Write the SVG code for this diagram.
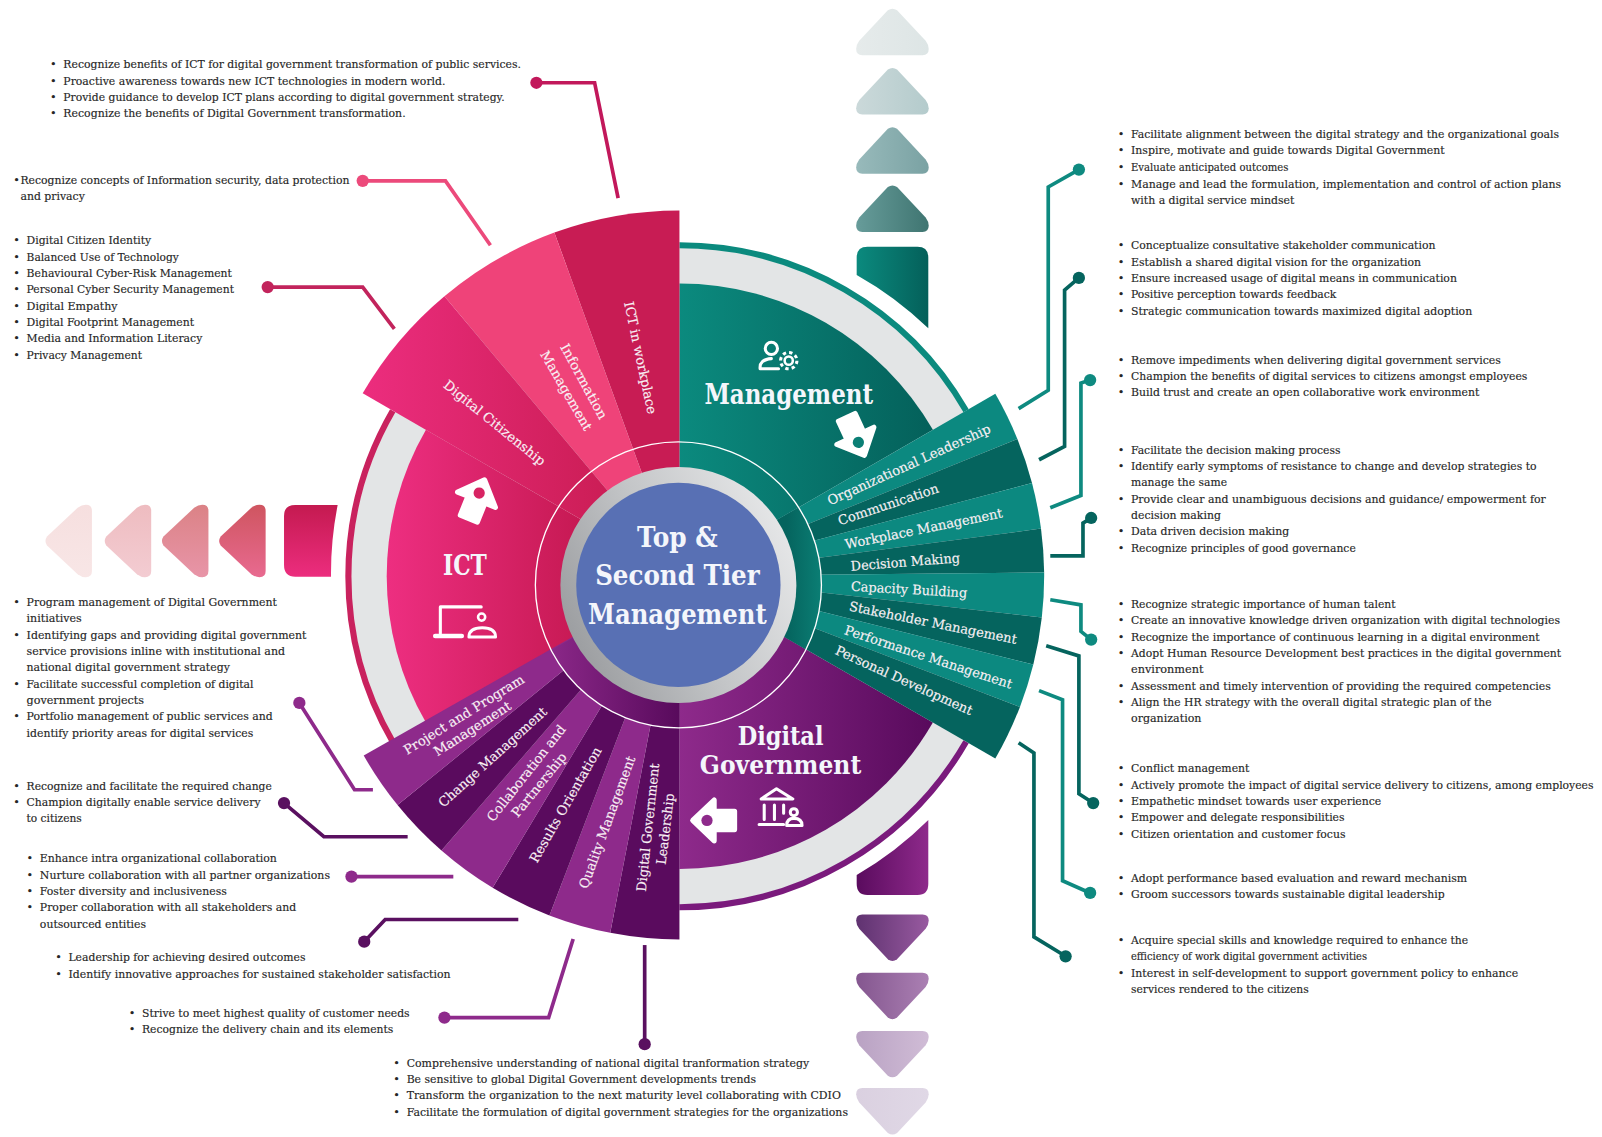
<svg xmlns="http://www.w3.org/2000/svg" width="1602" height="1137" viewBox="0 0 1602 1137">
<style>
text{font-family:"DejaVu Serif","Liberation Serif",serif}
.t{font-size:11.4px;fill:#262626;stroke:#262626;stroke-width:.15}
.b{font-size:11px;fill:#262626}
.h{font-size:27px;font-weight:700;fill:#f4f6fb;text-anchor:middle}
.l{font-size:13px;fill:#f8f0f4;text-anchor:middle;stroke:#f8f0f4;stroke-width:.15}
.c{fill:none;stroke-width:3.6}
.ic{fill:none;stroke:#fff;stroke-width:3;stroke-linecap:round;stroke-linejoin:round}
.tl{fill:#0c8980}.td{fill:#05645e}.ql{fill:#8e2a8b}.qd{fill:#5a0b5e}
</style>
<defs>
<path id="tri" d="M31,2 Q35.5,-1 40,2 L68,32 Q71,36 71,40 Q71,46 65,46 L6,46 Q0,46 0,40 Q0,36 3,32 Z"/>
<path id="arw" d="M0,-22 L20,-1 L9,-1 L9,19 L-9,19 L-9,-1 L-20,-1 Z" fill="#fff" stroke="#fff" stroke-width="5" stroke-linejoin="round"/>
<linearGradient id="u1"><stop offset="0" stop-color="#e6ebeb"/><stop offset="1" stop-color="#dde5e5"/></linearGradient>
<linearGradient id="u2"><stop offset="0" stop-color="#cbd9da"/><stop offset="1" stop-color="#b4cbcc"/></linearGradient>
<linearGradient id="u3"><stop offset="0" stop-color="#98babb"/><stop offset="1" stop-color="#7aa2a3"/></linearGradient>
<linearGradient id="u4"><stop offset="0" stop-color="#679c9a"/><stop offset="1" stop-color="#3f7571"/></linearGradient>
<linearGradient id="l1"><stop offset="0" stop-color="#f8e6e6"/><stop offset="1" stop-color="#f6dfdf"/></linearGradient>
<linearGradient id="l2"><stop offset="0" stop-color="#f3ccd2"/><stop offset="1" stop-color="#eebcc0"/></linearGradient>
<linearGradient id="l3"><stop offset="0" stop-color="#e895a8"/><stop offset="1" stop-color="#db8286"/></linearGradient>
<linearGradient id="l4"><stop offset="0" stop-color="#e86a90"/><stop offset="1" stop-color="#cf5560"/></linearGradient>
<linearGradient id="d1"><stop offset="0" stop-color="#985aa0"/><stop offset="1" stop-color="#5f3270"/></linearGradient>
<linearGradient id="d2"><stop offset="0" stop-color="#ab80b3"/><stop offset="1" stop-color="#84568f"/></linearGradient>
<linearGradient id="d3"><stop offset="0" stop-color="#d0bcd6"/><stop offset="1" stop-color="#b9a2c3"/></linearGradient>
<linearGradient id="d4"><stop offset="0" stop-color="#e0d8e6"/><stop offset="1" stop-color="#dad0e0"/></linearGradient>
<linearGradient id="gm" gradientUnits="userSpaceOnUse" x1="665" y1="0" x2="915" y2="0"><stop offset="0" stop-color="#0b8a7e"/><stop offset="1" stop-color="#04605a"/></linearGradient>
<linearGradient id="gg" gradientUnits="userSpaceOnUse" x1="665" y1="0" x2="915" y2="0"><stop offset="0" stop-color="#8e2a8b"/><stop offset="1" stop-color="#580a5c"/></linearGradient>
<linearGradient id="gi" gradientUnits="userSpaceOnUse" x1="381" y1="0" x2="590" y2="0"><stop offset="0" stop-color="#ed2e80"/><stop offset="1" stop-color="#c2174e"/></linearGradient>
<linearGradient id="gc" gradientUnits="userSpaceOnUse" x1="355" y1="0" x2="600" y2="0"><stop offset="0" stop-color="#ec2d7e"/><stop offset="1" stop-color="#cb1d55"/></linearGradient>
<linearGradient id="gb" gradientUnits="userSpaceOnUse" x1="530" y1="0" x2="665" y2="0"><stop offset="0" stop-color="#8e2a8b"/><stop offset="1" stop-color="#580a5c"/></linearGradient>
<linearGradient id="gt" gradientUnits="userSpaceOnUse" x1="770" y1="0" x2="805" y2="0"><stop offset="0" stop-color="#05645e"/><stop offset="1" stop-color="#0b7f75"/></linearGradient>
<linearGradient id="gr" x1="0" y1=".75" x2="1" y2=".25"><stop offset="0" stop-color="#989a9d"/><stop offset=".5" stop-color="#c4c6c8"/><stop offset="1" stop-color="#e8e9ea"/></linearGradient>
<linearGradient id="rt"><stop offset="0" stop-color="#0b8a7e"/><stop offset="1" stop-color="#04605a"/></linearGradient>
<linearGradient id="rg"><stop offset="0" stop-color="#5a0b5e"/><stop offset="1" stop-color="#8e2a8b"/></linearGradient>
<linearGradient id="rp" x1="0" y1="0" x2="0" y2="1"><stop offset="0" stop-color="#c41a50"/><stop offset="1" stop-color="#ec2d7e"/></linearGradient>
</defs>
<g transform="scale(1.02168)">
<g id="arrows-column">
<use href="#tri" transform="translate(838,8)" fill="url(#u1)"/>
<use href="#tri" transform="translate(838,66)" fill="url(#u2)"/>
<use href="#tri" transform="translate(838,124)" fill="url(#u3)"/>
<use href="#tri" transform="translate(838,181)" fill="url(#u4)"/>
<path d="M838.5,252 Q838.5,241.5 849,241.5 H898 Q908.6,241.5 908.6,252 V321.4 A342,342 0 0 0 838.5,269.2 Z" fill="url(#rt)"/>
<use href="#tri" transform="translate(909,941) rotate(180)" fill="url(#d1)"/>
<use href="#tri" transform="translate(909,998) rotate(180)" fill="url(#d2)"/>
<use href="#tri" transform="translate(909,1055) rotate(180)" fill="url(#d3)"/>
<use href="#tri" transform="translate(909,1111) rotate(180)" fill="url(#d4)"/>
<path d="M838.5,856.4 A342,342 0 0 0 908.6,802.6 V865 Q908.6,876 898,876 H849 Q838.5,876 838.5,865 Z" fill="url(#rg)"/>
<use href="#tri" transform="translate(44,565) rotate(-90)" fill="url(#l1)"/>
<use href="#tri" transform="translate(102,565) rotate(-90)" fill="url(#l2)"/>
<use href="#tri" transform="translate(158,565) rotate(-90)" fill="url(#l3)"/>
<use href="#tri" transform="translate(214,565) rotate(-90)" fill="url(#l4)"/>
<path d="M289,494.3 H330.5 A342,342 0 0 0 324,564.4 H289 Q278,564.4 278,553 V505 Q278,494.3 289,494.3 Z" fill="url(#rp)"/>
</g>
<g id="ring">
<circle cx="665" cy="564" r="321.5" fill="#e3e5e6"/>
<path d="M665,240 A324,324 0 0 1 945.6,402" fill="none" stroke="#0b8a7e" stroke-width="6"/>
<path d="M945.6,726 A324,324 0 0 1 665,888" fill="none" stroke="#7a1a7c" stroke-width="6"/>
<path d="M384.4,726 A324,324 0 0 1 384.4,402" fill="none" stroke="#c9225e" stroke-width="6"/>
</g>
<g id="node-management">
<path d="M665,564 V277.5 A286.5,286.5 0 0 1 913.1,420.75 Z" fill="url(#gm)"/>
<text class="h" x="772" y="395" textLength="165" lengthAdjust="spacingAndGlyphs">Management</text>
<g class="ic"><circle cx="755" cy="341" r="6"/><path d="M744,361 H762 M744,361 Q743,352 755,351"/><circle cx="772" cy="353" r="4" stroke-width="2.5"/><circle cx="772" cy="353" r="8" stroke-width="3" stroke-linecap="butt" stroke-dasharray="3.3 3"/></g>
<g transform="translate(836.8,425.7) rotate(155)"><use href="#arw"/><circle cx="0" cy="-8" r="5.5" fill="#0b7f75"/></g>
</g>
<g id="node-ict">
<path d="M665,564 L416.9,420.75 A286.5,286.5 0 0 0 416.9,707.25 Z" fill="url(#gi)"/>
<text class="h" x="455" y="563" textLength="43" lengthAdjust="spacingAndGlyphs">ICT</text>
<g transform="translate(466,490) rotate(22)"><use href="#arw"/><circle cx="0" cy="-8" r="5.5" fill="#d82463"/></g>
<g class="ic"><path d="M431,620 V594 H471"/><path d="M426,622.5 H452" stroke-width="4.5"/><circle cx="471.4" cy="604" r="3.5" stroke-width="2.5"/><path d="M459,623.5 H485 Q485,614.5 472,614.5 Q459,614.5 459,623.5 Z"/></g>
</g>
<g id="node-digital-government">
<path d="M665,564 L913.1,707.25 A286.5,286.5 0 0 1 665,850.5 Z" fill="url(#gg)"/>
<text class="h" style="font-size:26px" x="764" y="729" textLength="84" lengthAdjust="spacingAndGlyphs">Digital</text>
<text class="h" style="font-size:26px" x="764" y="758" textLength="158" lengthAdjust="spacingAndGlyphs">Government</text>
<g transform="translate(700,803) rotate(-90)"><use href="#arw"/><circle cx="0" cy="-8" r="5.5" fill="#8e2a8b"/></g>
<g class="ic" stroke-width="2.5"><path d="M745,782 L760,772 L776,782 Z"/><path d="M748,788 V802 M758,788 V802 M767,788 V796 M743,807 H767"/><circle cx="777" cy="795" r="3.5"/><path d="M770,808 H785 Q785,801 777,801 Q770,801 770,808 Z"/></g>
</g>
<g id="management-sectors">
<path class="tl" d="M665,564 L974.2,385.5 A357,357 0 0 1 995.8,429.7 Z"/>
<path class="td" d="M665,564 L995.8,429.7 A357,357 0 0 1 1010.1,472.8 Z"/>
<path class="tl" d="M665,564 L1010.1,472.8 A357,357 0 0 1 1018.9,517.4 Z"/>
<path class="td" d="M665,564 L1018.9,517.4 A357,357 0 0 1 1022,560.3 Z"/>
<path class="tl" d="M665,564 L1022,560.3 A357,357 0 0 1 1019.7,604.4 Z"/>
<path class="td" d="M665,564 L1019.7,604.4 A357,357 0 0 1 1011.4,650.4 Z"/>
<path class="tl" d="M665,564 L1011.4,650.4 A357,357 0 0 1 998.3,691.9 Z"/>
<path class="td" d="M665,564 L998.3,691.9 A357,357 0 0 1 974.2,742.5 Z"/>
<path d="M665,564 L781.7,496.6 A140,140 0 0 1 789.1,635.7 Z" fill="url(#gt)"/>
<text class="l" transform="translate(891.5,458.8) rotate(-24.4)" textLength="174" lengthAdjust="spacingAndGlyphs">Organizational Leadership</text>
<text class="l" transform="translate(870.8,498) rotate(-18.4)" textLength="103" lengthAdjust="spacingAndGlyphs">Communication</text>
<text class="l" transform="translate(904.9,521.8) rotate(-11.4)" textLength="157" lengthAdjust="spacingAndGlyphs">Workplace Management</text>
<text class="l" transform="translate(886.4,554.5) rotate(-4.4)" textLength="107" lengthAdjust="spacingAndGlyphs">Decision Making</text>
<text class="l" transform="translate(889.5,581.5) rotate(3.3)" textLength="114" lengthAdjust="spacingAndGlyphs">Capacity Building</text>
<text class="l" transform="translate(912.4,614) rotate(11.3)" textLength="167" lengthAdjust="spacingAndGlyphs">Stakeholder Management</text>
<text class="l" transform="translate(907.4,647.3) rotate(18.2)" textLength="172" lengthAdjust="spacingAndGlyphs">Performance Management</text>
<text class="l" transform="translate(883,670) rotate(24.4)" textLength="146" lengthAdjust="spacingAndGlyphs">Personal Development</text>
</g>
<g id="ict-sectors">
<path d="M665,564 V206 A358,358 0 0 0 542.6,227.6 Z" fill="#c81c54"/>
<path d="M665,564 L542.6,227.6 A358,358 0 0 0 435,290 Z" fill="#ef4379"/>
<path d="M665,564 L435,290 A358,358 0 0 0 355,385 Z" fill="url(#gc)"/>
<text class="l" transform="translate(622.5,351) rotate(78)" textLength="112" lengthAdjust="spacingAndGlyphs">ICT in workplace</text>
<text class="l" transform="translate(567.5,375.4) rotate(61.4)" textLength="82" lengthAdjust="spacingAndGlyphs">Information</text>
<text class="l" transform="translate(550.3,384.5) rotate(60)" textLength="88" lengthAdjust="spacingAndGlyphs">Management</text>
<text class="l" transform="translate(481.2,417.4) rotate(39)" textLength="124" lengthAdjust="spacingAndGlyphs">Digital Citizenship</text>
</g>
<g id="government-sectors">
<path class="qd" d="M665,564 V919.5 A355.5,355.5 0 0 1 597.3,913 Z"/>
<path class="ql" d="M665,564 L597.3,913 A355.5,355.5 0 0 1 537.8,896 Z"/>
<path class="qd" d="M665,564 L537.8,896 A355.5,355.5 0 0 1 482.2,869 Z"/>
<path class="ql" d="M665,564 L482.2,869 A355.5,355.5 0 0 1 432.1,832.5 Z"/>
<path class="qd" d="M665,564 L432.1,832.5 A355.5,355.5 0 0 1 389.1,788 Z"/>
<path class="ql" d="M665,564 L389.1,788 A355.5,355.5 0 0 1 356,739.5 Z"/>
<path d="M665,564 L665,712.5 A140,140 0 0 1 539.4,636.5 Z" fill="url(#gb)"/>
<text class="l" transform="translate(456.4,703.2) rotate(-31.8)" textLength="136" lengthAdjust="spacingAndGlyphs">Project and Program</text>
<text class="l" transform="translate(464.7,717) rotate(-32.8)" textLength="87" lengthAdjust="spacingAndGlyphs">Management</text>
<text class="l" transform="translate(485.1,744.4) rotate(-42.3)" textLength="138" lengthAdjust="spacingAndGlyphs">Change Management</text>
<text class="l" transform="translate(518.6,759.5) rotate(-51.8)" textLength="116" lengthAdjust="spacingAndGlyphs">Collaboration and</text>
<text class="l" transform="translate(531.1,770.9) rotate(-51)" textLength="77" lengthAdjust="spacingAndGlyphs">Partnership</text>
<text class="l" transform="translate(557.3,789.9) rotate(-60.2)" textLength="128" lengthAdjust="spacingAndGlyphs">Results Orientation</text>
<text class="l" transform="translate(598.4,806.4) rotate(-69.8)" textLength="137" lengthAdjust="spacingAndGlyphs">Quality Management</text>
<text class="l" transform="translate(638.6,810.4) rotate(-84)" textLength="126" lengthAdjust="spacingAndGlyphs">Digital Government</text>
<text class="l" transform="translate(655.7,812) rotate(-83)" textLength="70" lengthAdjust="spacingAndGlyphs">Leadership</text>
</g>
<g id="node-hub">
<circle cx="664" cy="572.5" r="140" fill="none" stroke="#fff" stroke-width="1.3"/>
<circle cx="664" cy="572.5" r="115.5" fill="url(#gr)"/>
<circle cx="664" cy="572.5" r="100" fill="#5870b4"/>
<text class="h" x="663" y="535" textLength="79" lengthAdjust="spacingAndGlyphs">Top &amp;</text>
<text class="h" x="663" y="573" textLength="161" lengthAdjust="spacingAndGlyphs">Second Tier</text>
<text class="h" x="663" y="611" textLength="175" lengthAdjust="spacingAndGlyphs">Management</text>
</g>
<g id="connectors">
<g class="c" stroke="#c2185b"><path d="M525,81 H582 L605,194"/></g><circle cx="525" cy="81" r="6" fill="#c2185b"/>
<g class="c" stroke="#ec4a7b"><path d="M355,177 H436 L480,240"/></g><circle cx="355" cy="177" r="6" fill="#ec4a7b"/>
<g class="c" stroke="#c2245c"><path d="M262,281 H355 L386,322"/></g><circle cx="262" cy="281" r="6" fill="#c2245c"/>
<g class="c" stroke="#8e2a8b"><path d="M293,688 L347,773 H365"/></g><circle cx="293" cy="688" r="6" fill="#8e2a8b"/>
<g class="c" stroke="#5a1060"><path d="M278,786 L317,819 H399"/></g><circle cx="278" cy="786" r="6" fill="#5a1060"/>
<g class="c" stroke="#8e2a8b"><path d="M344,858 H443.7"/></g><circle cx="344" cy="858" r="6" fill="#8e2a8b"/>
<g class="c" stroke="#5a1060"><path d="M356.5,921.7 L377,900 H507.3"/></g><circle cx="356.5" cy="921.7" r="6" fill="#5a1060"/>
<g class="c" stroke="#8e2a8b"><path d="M435,996 H537 L561,919"/></g><circle cx="435" cy="996" r="6" fill="#8e2a8b"/>
<g class="c" stroke="#5a1060"><path d="M631,1022 V925"/></g><circle cx="631" cy="1022" r="6" fill="#5a1060"/>
<g class="c" stroke="#0e8a80"><path d="M1056,166 L1026,183 V382 L997,400"/></g><circle cx="1056" cy="166" r="6" fill="#0e8a80"/>
<g class="c" stroke="#05645e"><path d="M1056,272 L1042,284 V437 L1017,450"/></g><circle cx="1056" cy="272" r="6" fill="#05645e"/>
<g class="c" stroke="#0e8a80"><path d="M1067,372 L1058,375 V485 L1028,497"/></g><circle cx="1067" cy="372" r="6" fill="#0e8a80"/>
<g class="c" stroke="#05645e"><path d="M1068,507 L1060,512 V544 H1028"/></g><circle cx="1068" cy="507" r="6" fill="#05645e"/>
<g class="c" stroke="#0e8a80"><path d="M1068,626 L1058,618 V592 L1028,587"/></g><circle cx="1068" cy="626" r="6" fill="#0e8a80"/>
<g class="c" stroke="#05645e"><path d="M1024,632 L1056,642 V777 L1070,786"/></g><circle cx="1070" cy="786" r="6" fill="#05645e"/>
<g class="c" stroke="#0e8a80"><path d="M1017,676 L1040,685 V862 L1067,874"/></g><circle cx="1067" cy="874" r="6" fill="#0e8a80"/>
<g class="c" stroke="#05645e"><path d="M997,727 L1012,737 V917 L1043,936"/></g><circle cx="1043" cy="936" r="6" fill="#05645e"/>
</g>
<g id="text-ict-in-workplace">
<text class="b" x="49" y="67">•</text><text class="b" x="49" y="83">•</text><text class="b" x="49" y="99">•</text><text class="b" x="49" y="115">•</text>
<text class="t" x="62" y="67" textLength="448" lengthAdjust="spacingAndGlyphs">Recognize benefits of ICT for digital government transformation of public services.</text>
<text class="t" x="62" y="83" textLength="374" lengthAdjust="spacingAndGlyphs">Proactive awareness towards new ICT technologies in modern world.</text>
<text class="t" x="62" y="99" textLength="432" lengthAdjust="spacingAndGlyphs">Provide guidance to develop ICT plans according to digital government strategy.</text>
<text class="t" x="62" y="115" textLength="335" lengthAdjust="spacingAndGlyphs">Recognize the benefits of Digital Government transformation.</text>
</g>
<g id="text-information-management">
<text class="b" x="13" y="180">•</text>
<text class="t" x="20" y="180" textLength="322" lengthAdjust="spacingAndGlyphs">Recognize concepts of Information security, data protection</text>
<text class="t" x="20" y="196" textLength="63" lengthAdjust="spacingAndGlyphs">and privacy</text>
</g>
<g id="text-digital-citizenship">
<text class="b" x="13" y="239">•</text><text class="b" x="13" y="255">•</text><text class="b" x="13" y="271">•</text><text class="b" x="13" y="287">•</text><text class="b" x="13" y="303">•</text><text class="b" x="13" y="319">•</text><text class="b" x="13" y="335">•</text><text class="b" x="13" y="351">•</text>
<text class="t" x="26" y="239" textLength="122" lengthAdjust="spacingAndGlyphs">Digital Citizen Identity</text>
<text class="t" x="26" y="255" textLength="149" lengthAdjust="spacingAndGlyphs">Balanced Use of Technology</text>
<text class="t" x="26" y="271" textLength="201" lengthAdjust="spacingAndGlyphs">Behavioural Cyber-Risk Management</text>
<text class="t" x="26" y="287" textLength="203" lengthAdjust="spacingAndGlyphs">Personal Cyber Security Management</text>
<text class="t" x="26" y="303" textLength="89" lengthAdjust="spacingAndGlyphs">Digital Empathy</text>
<text class="t" x="26" y="319" textLength="164" lengthAdjust="spacingAndGlyphs">Digital Footprint Management</text>
<text class="t" x="26" y="335" textLength="172" lengthAdjust="spacingAndGlyphs">Media and Information Literacy</text>
<text class="t" x="26" y="351" textLength="113" lengthAdjust="spacingAndGlyphs">Privacy Management</text>
</g>
<g id="text-project-program">
<text class="b" x="13" y="593">•</text><text class="b" x="13" y="625">•</text><text class="b" x="13" y="673">•</text><text class="b" x="13" y="705">•</text>
<text class="t" x="26" y="593" textLength="245" lengthAdjust="spacingAndGlyphs">Program management of Digital Government</text>
<text class="t" x="26" y="609" textLength="54" lengthAdjust="spacingAndGlyphs">initiatives</text>
<text class="t" x="26" y="625" textLength="274" lengthAdjust="spacingAndGlyphs">Identifying gaps and providing digital government</text>
<text class="t" x="26" y="641" textLength="253" lengthAdjust="spacingAndGlyphs">service provisions inline with institutional and</text>
<text class="t" x="26" y="657" textLength="199" lengthAdjust="spacingAndGlyphs">national digital government strategy</text>
<text class="t" x="26" y="673" textLength="222" lengthAdjust="spacingAndGlyphs">Facilitate successful completion of digital</text>
<text class="t" x="26" y="689" textLength="115" lengthAdjust="spacingAndGlyphs">government projects</text>
<text class="t" x="26" y="705" textLength="241" lengthAdjust="spacingAndGlyphs">Portfolio management of public services and</text>
<text class="t" x="26" y="721" textLength="222" lengthAdjust="spacingAndGlyphs">identify priority areas for digital services</text>
</g>
<g id="text-change">
<text class="b" x="13" y="773">•</text><text class="b" x="13" y="789">•</text>
<text class="t" x="26" y="773" textLength="240" lengthAdjust="spacingAndGlyphs">Recognize and facilitate the required change</text>
<text class="t" x="26" y="789" textLength="229" lengthAdjust="spacingAndGlyphs">Champion digitally enable service delivery</text>
<text class="t" x="26" y="805" textLength="54" lengthAdjust="spacingAndGlyphs">to citizens</text>
</g>
<g id="text-collaboration">
<text class="b" x="26" y="844">•</text><text class="b" x="26" y="860">•</text><text class="b" x="26" y="876">•</text><text class="b" x="26" y="892">•</text>
<text class="t" x="39" y="844" textLength="232" lengthAdjust="spacingAndGlyphs">Enhance intra organizational collaboration</text>
<text class="t" x="39" y="860" textLength="284" lengthAdjust="spacingAndGlyphs">Nurture collaboration with all partner organizations</text>
<text class="t" x="39" y="876" textLength="183" lengthAdjust="spacingAndGlyphs">Foster diversity and inclusiveness</text>
<text class="t" x="39" y="892" textLength="251" lengthAdjust="spacingAndGlyphs">Proper collaboration with all stakeholders and</text>
<text class="t" x="39" y="908" textLength="104" lengthAdjust="spacingAndGlyphs">outsourced entities</text>
</g>
<g id="text-results">
<text class="b" x="54" y="941">•</text><text class="b" x="54" y="957">•</text>
<text class="t" x="67" y="941" textLength="232" lengthAdjust="spacingAndGlyphs">Leadership for achieving desired outcomes</text>
<text class="t" x="67" y="957" textLength="374" lengthAdjust="spacingAndGlyphs">Identify innovative approaches for sustained stakeholder satisfaction</text>
</g>
<g id="text-quality">
<text class="b" x="126" y="995">•</text><text class="b" x="126" y="1011">•</text>
<text class="t" x="139" y="995" textLength="262" lengthAdjust="spacingAndGlyphs">Strive to meet highest quality of customer needs</text>
<text class="t" x="139" y="1011" textLength="246" lengthAdjust="spacingAndGlyphs">Recognize the delivery chain and its elements</text>
</g>
<g id="text-leadership">
<text class="b" x="385" y="1044">•</text><text class="b" x="385" y="1060">•</text><text class="b" x="385" y="1076">•</text><text class="b" x="385" y="1092">•</text>
<text class="t" x="398" y="1044" textLength="394" lengthAdjust="spacingAndGlyphs">Comprehensive understanding of national digital tranformation strategy</text>
<text class="t" x="398" y="1060" textLength="342" lengthAdjust="spacingAndGlyphs">Be sensitive to global Digital Government developments trends</text>
<text class="t" x="398" y="1076" textLength="425" lengthAdjust="spacingAndGlyphs">Transform the organization to the next maturity level collaborating with CDIO</text>
<text class="t" x="398" y="1092" textLength="432" lengthAdjust="spacingAndGlyphs">Facilitate the formulation of digital government strategies for the organizations</text>
</g>
<g id="text-organizational-leadership">
<text class="b" x="1094" y="135">•</text><text class="b" x="1094" y="151">•</text><text class="b" x="1094" y="167">•</text><text class="b" x="1094" y="184">•</text>
<text class="t" x="1107" y="135" textLength="419" lengthAdjust="spacingAndGlyphs">Facilitate alignment between the digital strategy and the organizational goals</text>
<text class="t" x="1107" y="151" textLength="307" lengthAdjust="spacingAndGlyphs">Inspire, motivate and guide towards Digital Government</text>
<text class="t" x="1107" y="167" textLength="154" lengthAdjust="spacingAndGlyphs">Evaluate anticipated outcomes</text>
<text class="t" x="1107" y="184" textLength="421" lengthAdjust="spacingAndGlyphs">Manage and lead the formulation, implementation and control of action plans</text>
<text class="t" x="1107" y="200" textLength="160" lengthAdjust="spacingAndGlyphs">with a digital service mindset</text>
</g>
<g id="text-communication">
<text class="b" x="1094" y="244">•</text><text class="b" x="1094" y="260">•</text><text class="b" x="1094" y="276">•</text><text class="b" x="1094" y="292">•</text><text class="b" x="1094" y="308">•</text>
<text class="t" x="1107" y="244" textLength="298" lengthAdjust="spacingAndGlyphs">Conceptualize consultative stakeholder communication</text>
<text class="t" x="1107" y="260" textLength="284" lengthAdjust="spacingAndGlyphs">Establish a shared digital vision for the organization</text>
<text class="t" x="1107" y="276" textLength="319" lengthAdjust="spacingAndGlyphs">Ensure increased usage of digital means in communication</text>
<text class="t" x="1107" y="292" textLength="201" lengthAdjust="spacingAndGlyphs">Positive perception towards feedback</text>
<text class="t" x="1107" y="308" textLength="334" lengthAdjust="spacingAndGlyphs">Strategic communication towards maximized digital adoption</text>
</g>
<g id="text-workplace-management">
<text class="b" x="1094" y="356">•</text><text class="b" x="1094" y="372">•</text><text class="b" x="1094" y="388">•</text>
<text class="t" x="1107" y="356" textLength="362" lengthAdjust="spacingAndGlyphs">Remove impediments when delivering digital government services</text>
<text class="t" x="1107" y="372" textLength="388" lengthAdjust="spacingAndGlyphs">Champion the benefits of digital services to citizens amongst employees</text>
<text class="t" x="1107" y="388" textLength="341" lengthAdjust="spacingAndGlyphs">Build trust and create an open collaborative work environment</text>
</g>
<g id="text-decision-making">
<text class="b" x="1094" y="444">•</text><text class="b" x="1094" y="460">•</text><text class="b" x="1094" y="492">•</text><text class="b" x="1094" y="524">•</text><text class="b" x="1094" y="540">•</text>
<text class="t" x="1107" y="444" textLength="205" lengthAdjust="spacingAndGlyphs">Facilitate the decision making process</text>
<text class="t" x="1107" y="460" textLength="397" lengthAdjust="spacingAndGlyphs">Identify early symptoms of resistance to change and develop strategies to</text>
<text class="t" x="1107" y="476" textLength="94" lengthAdjust="spacingAndGlyphs">manage the same</text>
<text class="t" x="1107" y="492" textLength="406" lengthAdjust="spacingAndGlyphs">Provide clear and unambiguous decisions and guidance/ empowerment for</text>
<text class="t" x="1107" y="508" textLength="88" lengthAdjust="spacingAndGlyphs">decision making</text>
<text class="t" x="1107" y="524" textLength="155" lengthAdjust="spacingAndGlyphs">Data driven decision making</text>
<text class="t" x="1107" y="540" textLength="220" lengthAdjust="spacingAndGlyphs">Recognize principles of good governance</text>
</g>
<g id="text-capacity-building">
<text class="b" x="1094" y="595">•</text><text class="b" x="1094" y="611">•</text><text class="b" x="1094" y="627">•</text><text class="b" x="1094" y="643">•</text><text class="b" x="1094" y="675">•</text><text class="b" x="1094" y="691">•</text>
<text class="t" x="1107" y="595" textLength="259" lengthAdjust="spacingAndGlyphs">Recognize strategic importance of human talent</text>
<text class="t" x="1107" y="611" textLength="420" lengthAdjust="spacingAndGlyphs">Create an innovative knowledge driven organization with digital technologies</text>
<text class="t" x="1107" y="627" textLength="400" lengthAdjust="spacingAndGlyphs">Recognize the importance of continuous learning in a digital environment</text>
<text class="t" x="1107" y="643" textLength="421" lengthAdjust="spacingAndGlyphs">Adopt Human Resource Development best practices in the digital government</text>
<text class="t" x="1107" y="659" textLength="71" lengthAdjust="spacingAndGlyphs">environment</text>
<text class="t" x="1107" y="675" textLength="411" lengthAdjust="spacingAndGlyphs">Assessment and timely intervention of providing the required competencies</text>
<text class="t" x="1107" y="691" textLength="353" lengthAdjust="spacingAndGlyphs">Align the HR strategy with the overall digital strategic plan of the</text>
<text class="t" x="1107" y="707" textLength="69" lengthAdjust="spacingAndGlyphs">organization</text>
</g>
<g id="text-stakeholder-management">
<text class="b" x="1094" y="756">•</text><text class="b" x="1094" y="772">•</text><text class="b" x="1094" y="788">•</text><text class="b" x="1094" y="804">•</text><text class="b" x="1094" y="820">•</text>
<text class="t" x="1107" y="756" textLength="116" lengthAdjust="spacingAndGlyphs">Conflict management</text>
<text class="t" transform="translate(1107,772) scale(.77,1)" textLength="588" lengthAdjust="spacingAndGlyphs">Actively promote the impact of digital service delivery to citizens, among employees</text>
<text class="t" x="1107" y="788" textLength="245" lengthAdjust="spacingAndGlyphs">Empathetic mindset towards user experience</text>
<text class="t" x="1107" y="804" textLength="209" lengthAdjust="spacingAndGlyphs">Empower and delegate responsibilities</text>
<text class="t" x="1107" y="820" textLength="210" lengthAdjust="spacingAndGlyphs">Citizen orientation and customer focus</text>
</g>
<g id="text-performance-management">
<text class="b" x="1094" y="863">•</text><text class="b" x="1094" y="879">•</text>
<text class="t" x="1107" y="863" textLength="329" lengthAdjust="spacingAndGlyphs">Adopt performance based evaluation and reward mechanism</text>
<text class="t" x="1107" y="879" textLength="307" lengthAdjust="spacingAndGlyphs">Groom successors towards sustainable digital leadership</text>
</g>
<g id="text-personal-development">
<text class="b" x="1094" y="924">•</text><text class="b" x="1094" y="956">•</text>
<text class="t" x="1107" y="924" textLength="330" lengthAdjust="spacingAndGlyphs">Acquire special skills and knowledge required to enhance the</text>
<text class="t" x="1107" y="940" textLength="231" lengthAdjust="spacingAndGlyphs">efficiency of work digital government activities</text>
<text class="t" x="1107" y="956" textLength="379" lengthAdjust="spacingAndGlyphs">Interest in self-development to support government policy to enhance</text>
<text class="t" x="1107" y="972" textLength="174" lengthAdjust="spacingAndGlyphs">services rendered to the citizens</text>
</g>
</g>
</svg>
